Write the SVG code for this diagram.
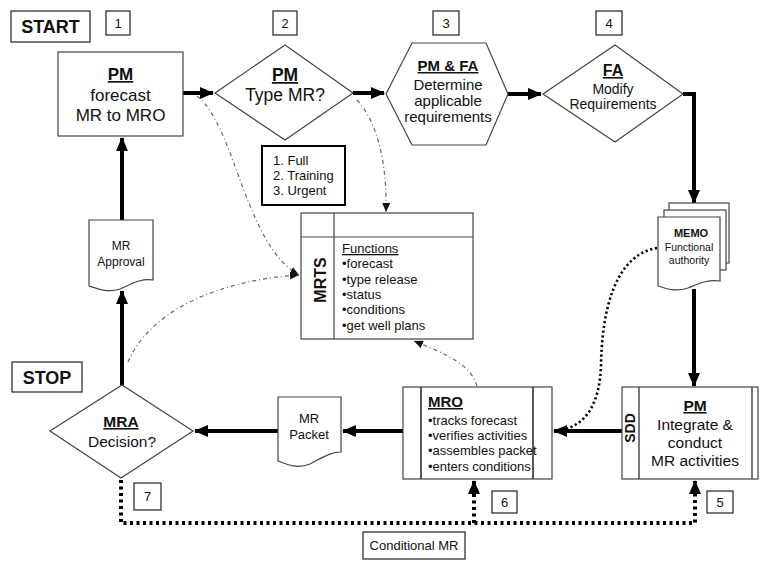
<svg xmlns="http://www.w3.org/2000/svg" width="761" height="561" viewBox="0 0 761 561">
<style>
text{font-family:"Liberation Sans",Arial,sans-serif;fill:#111}
.sh{fill:#fff;stroke:#444;stroke-width:1.2}
.nb{fill:#fff;stroke:#222;stroke-width:1.2}
.c{text-anchor:middle}
.b{font-weight:bold}
.u{text-decoration:underline}
.thick{fill:none;stroke:#000;stroke-width:4}
.hdot{fill:none;stroke:#000;stroke-width:4;stroke-dasharray:3 3.5}
.thin{fill:none;stroke:#666;stroke-width:1.2;stroke-dasharray:4 3 1 3}
.mdot{fill:none;stroke:#000;stroke-width:2.6;stroke-dasharray:2.2 2.6}
</style>
<defs>
<marker id="a" markerUnits="userSpaceOnUse" markerWidth="14" markerHeight="12" refX="13" refY="6" orient="auto"><path d="M0,0 L14,6 L0,12 Z" fill="#000"/></marker>
<marker id="s" markerUnits="userSpaceOnUse" markerWidth="9" markerHeight="8" refX="9" refY="4" orient="auto"><path d="M0,0 L9,4 L0,8 Z" fill="#111"/></marker>
</defs>
<rect width="761" height="561" fill="#fff"/>

<g id="connectors">
<path class="thick" d="M183,93 H213" marker-end="url(#a)"/>
<path class="thick" d="M353,93 H384" marker-end="url(#a)"/>
<path class="thick" d="M508,94 H541" marker-end="url(#a)"/>
<path class="thick" d="M683,94 H694 V203" marker-end="url(#a)"/>
<path class="thick" d="M694,289 V386" marker-end="url(#a)"/>
<path class="thick" d="M622,431 H554" marker-end="url(#a)"/>
<path class="thick" d="M403,431 H343" marker-end="url(#a)"/>
<path class="thick" d="M278,431 H195" marker-end="url(#a)"/>
<path class="thick" d="M122,385 V291" marker-end="url(#a)"/>
<path class="thick" d="M122,220 V138" marker-end="url(#a)"/>
<path class="hdot" d="M121,480 V523 H695 V481" marker-end="url(#a)"/>
<path class="hdot" d="M474,523 V481" marker-end="url(#a)"/>
<path class="thin" d="M197,96 C235,125 245,245 299,275" marker-end="url(#s)"/>
<path class="thin" d="M128,362 C150,310 220,280 299,275" marker-end="url(#s)"/>
<path class="thin" d="M357,100 C380,125 387,170 386,212" marker-end="url(#s)"/>
<path class="thin" d="M477,386 C470,362 440,352 414,341" marker-end="url(#s)"/>
<path class="mdot" d="M657,248 C615,255 602,310 601,365 C600,400 588,426 560,430"/>
</g>

<g id="start"><rect class="nb" x="11" y="11" width="79" height="31" stroke-width="1.6"/><text class="c b" x="50.5" y="33" font-size="18">START</text></g>
<g id="n1"><rect class="nb" x="106" y="11" width="24" height="24"/><text class="c" x="118" y="28" font-size="13">1</text></g>
<g id="n2"><rect class="nb" x="273" y="11" width="24" height="24"/><text class="c" x="285" y="28" font-size="13">2</text></g>
<g id="n3"><rect class="nb" x="433" y="11" width="26" height="24"/><text class="c" x="446" y="28" font-size="13">3</text></g>
<g id="n4"><rect class="nb" x="596" y="11" width="26" height="24"/><text class="c" x="609" y="28" font-size="13">4</text></g>

<g id="pm-forecast"><rect class="sh" x="58" y="52" width="125" height="84"/>
<text class="c" x="120.5" font-size="17"><tspan class="b u" x="120.5" y="80">PM</tspan><tspan x="120.5" y="101">forecast</tspan><tspan x="120.5" y="121">MR to MRO</tspan></text></g>

<g id="type-mr"><path class="sh" d="M215,93 L285,45 L353,93 L285,140 Z"/>
<text class="c" font-size="17.5"><tspan class="b u" x="285" y="81">PM</tspan><tspan x="285" y="101">Type MR?</tspan></text></g>

<g id="types"><rect x="262" y="146" width="83" height="59" fill="#fff" stroke="#000" stroke-width="2"/>
<text font-size="13"><tspan x="273" y="165">1. Full</tspan><tspan x="273" y="180">2. Training</tspan><tspan x="273" y="195">3. Urgent</tspan></text></g>

<g id="pm-fa"><path class="sh" d="M386,94 L412,43 L486,43 L508,94 L486,145 L412,145 Z"/>
<text class="c" font-size="15"><tspan class="b u" x="448" y="71">PM &amp; FA</tspan><tspan x="448" y="90">Determine</tspan><tspan x="448" y="106">applicable</tspan><tspan x="448" y="122">requirements</tspan></text></g>

<g id="fa"><path class="sh" d="M543,94 L615,45 L683,94 L615,142 Z"/>
<text class="c" font-size="14"><tspan class="b u" x="613" y="76" font-size="16">FA</tspan><tspan x="613" y="94">Modify</tspan><tspan x="613" y="109">Requirements</tspan></text></g>

<g id="memo">
<rect class="sh" x="669" y="203" width="60" height="60"/>
<rect class="sh" x="664" y="210" width="62" height="60"/>
<path class="sh" d="M658,217 H720 V281 C708,279 698,284 688,288 C676,292 667,289 658,286 Z"/>
<text class="c" font-size="10.5"><tspan class="b" x="691" y="237" font-size="11">MEMO</tspan><tspan x="689" y="251">Functional</tspan><tspan x="689" y="264">authority</tspan></text></g>

<g id="mrts"><rect class="sh" x="301" y="213" width="172" height="126"/>
<path d="M334,213 V339 M301,237 H473" stroke="#444" stroke-width="1.2" fill="none"/>
<text class="b c" font-size="16" transform="translate(326,280) rotate(-90)" x="0" y="0">MRTS</text>
<text font-size="13"><tspan class="u" x="342" y="253">Functions</tspan><tspan x="342" y="268">•forecast</tspan><tspan x="342" y="284">•type release</tspan><tspan x="342" y="299">•status</tspan><tspan x="342" y="314">•conditions</tspan><tspan x="342" y="330">•get well plans</tspan></text></g>

<g id="mr-approval"><path class="sh" d="M89,220 H153 V280 C140,278 130,285 120,289 C108,293 98,289 89,286 Z"/>
<text class="c" font-size="12"><tspan x="121" y="250">MR</tspan><tspan x="121" y="266">Approval</tspan></text></g>

<g id="stop"><rect class="nb" x="12" y="362" width="70" height="30" stroke-width="1.6"/><text class="c b" x="47" y="384" font-size="18">STOP</text></g>

<g id="mra"><path class="sh" d="M50,431 L122,385 L193,431 L121,478 Z"/>
<text class="c" font-size="15.5"><tspan class="b u" x="121" y="427">MRA</tspan><tspan x="122" y="447">Decision?</tspan></text></g>
<g id="n7"><rect class="nb" x="134" y="483" width="27" height="27"/><text class="c" x="147.5" y="501" font-size="13">7</text></g>

<g id="mr-packet"><path class="sh" d="M278,397 H341 V452 C330,452 322,458 310,464 C298,469 288,465 278,461 Z"/>
<text class="c" font-size="13"><tspan x="309" y="423">MR</tspan><tspan x="309" y="439">Packet</tspan></text></g>

<g id="mro"><rect class="sh" x="403" y="387" width="149" height="92"/>
<path d="M421,387 V479 M533,387 V479" stroke="#222" stroke-width="1.5" fill="none"/>
<text font-size="13"><tspan class="b u" x="428" y="407" font-size="15">MRO</tspan><tspan x="428" y="425">•tracks forecast</tspan><tspan x="428" y="440">•verifies activities</tspan><tspan x="428" y="455">•assembles packet</tspan><tspan x="428" y="471">•enters conditions</tspan></text></g>
<g id="n6"><rect class="nb" x="492" y="491" width="25" height="22"/><text class="c" x="504.5" y="507" font-size="13">6</text></g>

<g id="pm-integrate"><rect class="sh" x="622" y="387" width="136" height="92"/>
<path d="M639,387 V479 M752,387 V479" stroke="#333" stroke-width="1.3" fill="none"/>
<text class="b c" font-size="14" transform="translate(635,428) rotate(-90)">SDD</text>
<text class="c" font-size="15.5"><tspan class="b u" x="695" y="411">PM</tspan><tspan x="695" y="430">Integrate &amp;</tspan><tspan x="695" y="448">conduct</tspan><tspan x="695" y="466">MR activities</tspan></text></g>
<g id="n5"><rect class="nb" x="707" y="491" width="26" height="22"/><text class="c" x="720" y="507" font-size="13">5</text></g>

<g id="conditional"><rect class="nb" x="363" y="532" width="102" height="27" stroke-width="1.6"/><text class="c" x="414" y="550" font-size="13">Conditional MR</text></g>
</svg>
